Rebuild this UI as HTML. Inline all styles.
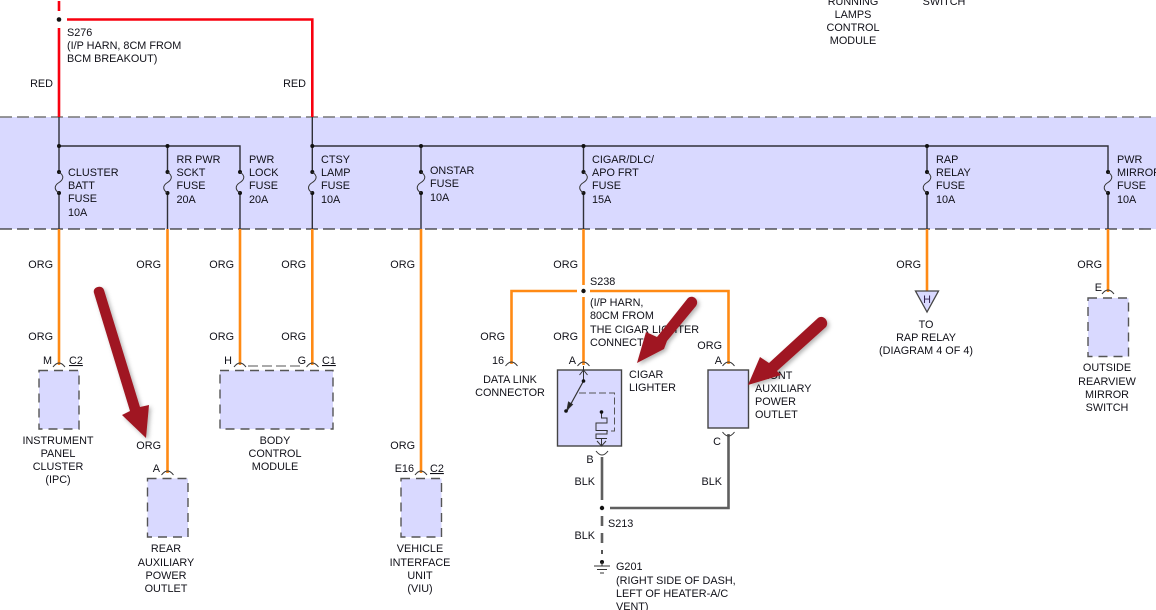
<!DOCTYPE html>
<html><head><meta charset="utf-8"><style>
html,body{margin:0;padding:0;background:#fff;width:1156px;height:610px;overflow:hidden}
svg{display:block}
text{font-family:"Liberation Sans",Arial,sans-serif;font-size:10.85px;fill:#101018}
.m{text-anchor:middle}.e{text-anchor:end}
.o{stroke:#ff8a14;stroke-width:2.6;fill:none}
.r{stroke:#f8000f;stroke-width:2.6;fill:none}
.b{stroke:#5f5f5f;stroke-width:2.6;fill:none}
.w{stroke:#303038;stroke-width:1.4;fill:none}
.box{fill:#d9d9ff;stroke:#555;stroke-width:1.4;stroke-dasharray:9 6}
.sb{fill:#d9d9ff;stroke:#444;stroke-width:1.4}
.c{fill:none;stroke:#333;stroke-width:1}
.a{fill:#a01820}
</style></head><body>
<svg width="1156" height="610" viewBox="0 0 1156 610" xmlns="http://www.w3.org/2000/svg">
<defs><filter id="s" x="-30%" y="-30%" width="160%" height="160%"><feDropShadow dx="2" dy="2" stdDeviation="2" flood-color="#000" flood-opacity=".3"/></filter></defs>
<rect x="0" y="117" width="1156" height="112" fill="#d9d9ff"/>
<line x1="0" y1="117" x2="1156" y2="117" stroke="#777" stroke-width="1.5" stroke-dasharray="12 5"/>
<line x1="0" y1="229" x2="1156" y2="229" stroke="#333" stroke-width="1.2" stroke-dasharray="12 5"/>

<!-- red -->
<path class="r" d="M59 1V11M59 28V117M67 19.500H312.300V117"/>
<circle cx="59" cy="19.500" r="2.300" fill="#111"/>

<!-- bus -->
<path class="w" d="M59 117V172M59 193V229M59 146H240V172M240 193V229M167.500 146V172M167.500 193V229M312.300 117V172M312.300 193V229M312.300 146H1108V172M1108 193V229M421 146V172M421 193V229M583.500 146V172M583.500 193V229M927 146V172M927 193V229"/>
<g fill="#111">
<circle cx="59" cy="146" r="2"/><circle cx="167.500" cy="146" r="2"/><circle cx="312.300" cy="146" r="2"/><circle cx="421" cy="146" r="2"/><circle cx="583.500" cy="146" r="2"/><circle cx="927" cy="146" r="2"/>
</g>
<!-- fuses -->
<g id="fuses" fill="#111">
<g transform="translate(59,0)"><circle cy="172" r="2"/><circle cy="193" r="2"/><path d="M0 172C6 176 4 180 0 182.500C-4 185 -6 189 0 193" fill="none" stroke="#333"/></g>
<g transform="translate(167.500,0)"><circle cy="172" r="2"/><circle cy="193" r="2"/><path d="M0 172C6 176 4 180 0 182.500C-4 185 -6 189 0 193" fill="none" stroke="#333"/></g>
<g transform="translate(240,0)"><circle cy="172" r="2"/><circle cy="193" r="2"/><path d="M0 172C6 176 4 180 0 182.500C-4 185 -6 189 0 193" fill="none" stroke="#333"/></g>
<g transform="translate(312.300,0)"><circle cy="172" r="2"/><circle cy="193" r="2"/><path d="M0 172C6 176 4 180 0 182.500C-4 185 -6 189 0 193" fill="none" stroke="#333"/></g>
<g transform="translate(421,0)"><circle cy="172" r="2"/><circle cy="193" r="2"/><path d="M0 172C6 176 4 180 0 182.500C-4 185 -6 189 0 193" fill="none" stroke="#333"/></g>
<g transform="translate(583.500,0)"><circle cy="172" r="2"/><circle cy="193" r="2"/><path d="M0 172C6 176 4 180 0 182.500C-4 185 -6 189 0 193" fill="none" stroke="#333"/></g>
<g transform="translate(927,0)"><circle cy="172" r="2"/><circle cy="193" r="2"/><path d="M0 172C6 176 4 180 0 182.500C-4 185 -6 189 0 193" fill="none" stroke="#333"/></g>
<g transform="translate(1108,0)"><circle cy="172" r="2"/><circle cy="193" r="2"/><path d="M0 172C6 176 4 180 0 182.500C-4 185 -6 189 0 193" fill="none" stroke="#333"/></g>
</g>

<!-- orange -->
<path class="o" d="M59 229V365M167.500 229V473M240 229V365M312.300 229V365M421 229V473M583.500 229V285M583.500 297V365M577 291H511.500V364M590 291H728.500V364M927 229V292M1108 229V292"/>
<circle cx="583.500" cy="291" r="2.200" fill="#111"/>

<!-- black -->
<path class="b" d="M602 457V500M610 508H728.500V434"/>
<path class="b" d="M602 516V526M602 533V543" />
<path d="M602 550V554" stroke="#555" stroke-width="2"/>
<circle cx="602" cy="508" r="2.200" fill="#111"/>
<circle cx="602" cy="562" r="2" fill="#111"/>
<path d="M602 562V566M594 566H610M597 569.500H607M600 573H604" stroke="#333" fill="none"/>

<!-- boxes -->
<rect class="box" x="39" y="370.500" width="40" height="58.500"/>
<rect class="box" x="220" y="370.500" width="113" height="58.500"/>
<rect class="box" x="147.500" y="478.500" width="40.500" height="58.500"/>
<rect class="box" x="401" y="478.500" width="40.500" height="58.500"/>
<rect class="box" x="1088" y="298" width="40.500" height="58.500"/>
<rect class="sb" x="557.500" y="370" width="64" height="76"/>
<rect class="sb" x="708" y="370" width="40.500" height="58"/>
<path d="M248 366H304" stroke="#555" stroke-dasharray="10 4" fill="none"/>
<path d="M927 312L915.500 291H938.500Z" fill="#d9d9ff" stroke="#444" stroke-width="1.300"/>

<!-- connector arcs -->
<path class="c" d="M53 367Q59 359 65 367M161.500 475Q167.500 467 173.500 475M234 367Q240 359 246 367M306.500 367Q312.300 359 318.500 367M415 475Q421 467 427 475M505.500 366Q511.500 358 517.500 366M577.500 366Q583.500 358 589.500 366M722.500 366Q728.500 358 734.500 366M1102 294Q1108 286 1114 294"/>
<path class="c" d="M596 451Q602 459 608 451M722.500 432Q728.500 440 734.500 432"/>

<!-- lighter internals -->
<g fill="none" stroke="#333" stroke-width="1">
<path d="M583.500 366V381M579.500 375L583.500 370L587.500 375"/>
<path d="M583.500 381L567 411" stroke-width="1.200"/>
<path d="M567 410L568.500 402L572.500 404.500Z" fill="#222"/>
<path d="M579 393H614.500V431H607" stroke="#555" stroke-dasharray="7 3"/>
<path d="M601.500 412V418H607V423H596V430.500H607V434H596V438.500H607M601.500 438.500V446M597 441L601.500 446L606 441"/>
</g>
<circle cx="583.500" cy="381" r="1.800" fill="#111"/><circle cx="566" cy="411" r="1.800" fill="#111"/><circle cx="601.500" cy="412" r="1.800" fill="#111"/>

<!-- labels -->
<text x="53" y="87" class="e">RED</text><text x="306" y="87" class="e">RED</text>
<text x="67" y="36">S276</text><text x="67" y="49">(I/P HARN, 8CM FROM</text><text x="67" y="62">BCM BREAKOUT)</text>

<text x="68" y="176">CLUSTER</text><text x="68" y="189">BATT</text><text x="68" y="202">FUSE</text><text x="68" y="216">10A</text>
<text x="176.500" y="163">RR PWR</text><text x="176.500" y="176">SCKT</text><text x="176.500" y="189">FUSE</text><text x="176.500" y="203">20A</text>
<text x="249" y="163">PWR</text><text x="249" y="176">LOCK</text><text x="249" y="189">FUSE</text><text x="249" y="203">20A</text>
<text x="321" y="163">CTSY</text><text x="321" y="176">LAMP</text><text x="321" y="189">FUSE</text><text x="321" y="203">10A</text>
<text x="430" y="174">ONSTAR</text><text x="430" y="187">FUSE</text><text x="430" y="201">10A</text>
<text x="592" y="163">CIGAR/DLC/</text><text x="592" y="176">APO FRT</text><text x="592" y="189">FUSE</text><text x="592" y="203">15A</text>
<text x="936" y="163">RAP</text><text x="936" y="176">RELAY</text><text x="936" y="189">FUSE</text><text x="936" y="203">10A</text>
<text x="1117" y="163">PWR</text><text x="1117" y="176">MIRROR</text><text x="1117" y="189">FUSE</text><text x="1117" y="203">10A</text>

<text x="53" y="268" class="e">ORG</text><text x="161" y="268" class="e">ORG</text><text x="234" y="268" class="e">ORG</text><text x="306" y="268" class="e">ORG</text><text x="415" y="268" class="e">ORG</text><text x="578" y="268" class="e">ORG</text><text x="921" y="268" class="e">ORG</text><text x="1102" y="268" class="e">ORG</text>
<text x="53" y="340" class="e">ORG</text><text x="234" y="340" class="e">ORG</text><text x="306" y="340" class="e">ORG</text><text x="505" y="340" class="e">ORG</text><text x="578" y="340" class="e">ORG</text><text x="722" y="349" class="e">ORG</text>
<text x="161" y="449" class="e">ORG</text><text x="415" y="449" class="e">ORG</text>

<text x="52" y="364" class="e">M</text><text x="69" y="364" text-decoration="underline">C2</text>
<text x="232" y="364" class="e">H</text><text x="306" y="364" class="e">G</text><text x="322" y="364" text-decoration="underline">C1</text>
<text x="160" y="472" class="e">A</text>
<text x="414" y="472" class="e">E16</text><text x="430" y="472" text-decoration="underline">C2</text>
<text x="504" y="364" class="e">16</text><text x="576" y="364" class="e">A</text><text x="722" y="364" class="e">A</text>
<text x="1102" y="291" class="e">E</text>
<text x="590" y="463" class="m">B</text><text x="717" y="445" class="m">C</text>

<g class="m">
<text x="58" y="444" class="m">INSTRUMENT</text><text x="58" y="457" class="m">PANEL</text><text x="58" y="470" class="m">CLUSTER</text><text x="58" y="483" class="m">(IPC)</text>
<text x="275" y="444" class="m">BODY</text><text x="275" y="457" class="m">CONTROL</text><text x="275" y="470" class="m">MODULE</text>
<text x="166" y="552" class="m">REAR</text><text x="166" y="566" class="m">AUXILIARY</text><text x="166" y="579" class="m">POWER</text><text x="166" y="592" class="m">OUTLET</text>
<text x="420" y="552" class="m">VEHICLE</text><text x="420" y="566" class="m">INTERFACE</text><text x="420" y="579" class="m">UNIT</text><text x="420" y="592" class="m">(VIU)</text>
<text x="510" y="383" class="m">DATA LINK</text><text x="510" y="396" class="m">CONNECTOR</text>
<text x="926" y="328" class="m">TO</text><text x="926" y="341" class="m">RAP RELAY</text><text x="926" y="354" class="m">(DIAGRAM 4 OF 4)</text>
<text x="1107" y="371" class="m">OUTSIDE</text><text x="1107" y="385" class="m">REARVIEW</text><text x="1107" y="398" class="m">MIRROR</text><text x="1107" y="411" class="m">SWITCH</text>
<text x="853" y="5" class="m">RUNNING</text><text x="853" y="18" class="m">LAMPS</text><text x="853" y="31" class="m">CONTROL</text><text x="853" y="44" class="m">MODULE</text>
<text x="944" y="5" class="m">SWITCH</text>
</g>
<text x="927" y="303" class="m" style="fill:#302050">H</text>
<text x="590" y="285">S238</text><text x="590" y="306">(I/P HARN,</text><text x="590" y="319">80CM FROM</text><text x="590" y="333">THE CIGAR LIGHTER</text><text x="590" y="346">CONNECTOR)</text>
<text x="629" y="378">CIGAR</text><text x="629" y="391">LIGHTER</text>
<text x="755" y="379">FRONT</text><text x="755" y="392">AUXILIARY</text><text x="755" y="405">POWER</text><text x="755" y="418">OUTLET</text>
<text x="595" y="485" class="e">BLK</text><text x="722" y="485" class="e">BLK</text><text x="595" y="539" class="e">BLK</text>
<text x="608" y="527">S213</text>
<text x="616" y="570">G201</text><text x="616" y="584">(RIGHT SIDE OF DASH,</text><text x="616" y="597">LEFT OF HEATER-A/C</text><text x="616" y="610">VENT)</text>

<!-- red annotation arrows -->
<g filter="url(#s)">
<path class="a" d="M94 293C92 287 102 284 104 290L140 407L149 405L146 438L122 415L130 411Z"/>
<path class="a" d="M688 298C693 294 700 300 696 306L667 341L664 349L637 363L646 332L657 337Z"/>
<path class="a" d="M818 318C823 314 830 321 826 327L777 371L781 375L748 385L760 357L769 363Z"/>
</g>
</svg>
</body></html>
